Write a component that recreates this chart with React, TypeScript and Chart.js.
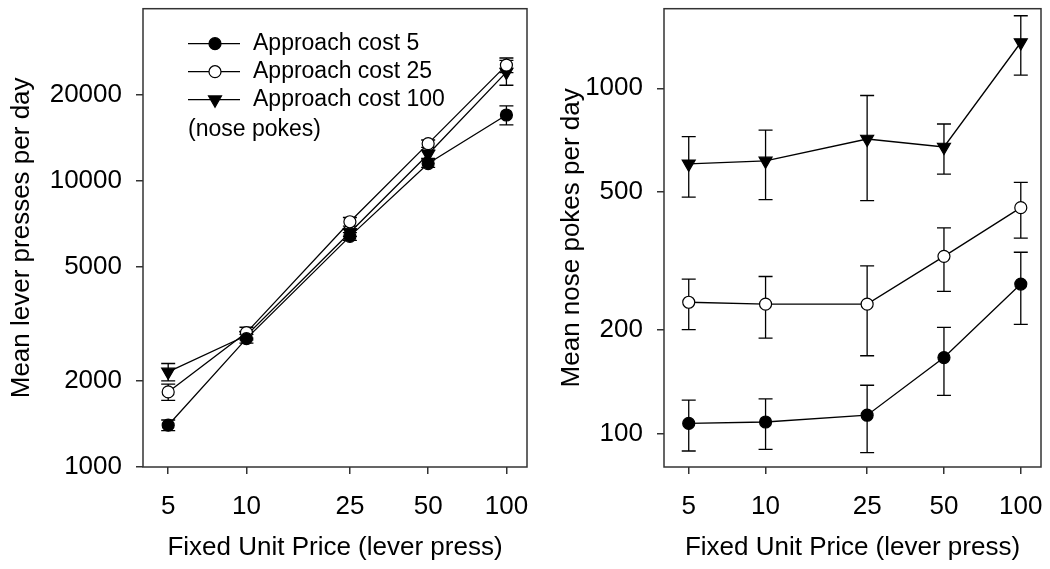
import React, { useEffect, useRef } from 'react';
import { Chart, registerables } from 'chart.js';

Chart.register(...registerables);

// ---------- data ----------
const prices = [5, 10, 25, 50, 100];
const xTicks = [5, 10, 25, 50, 100];
const leverYTicks = [1000, 2000, 5000, 10000, 20000];
const pokeYTicks = [100, 200, 500, 1000];

const seriesLabels = ['Approach cost 5', 'Approach cost 25', 'Approach cost 100'];
const legendNote = '(nose pokes)';
const xTitle = 'Fixed Unit Price (lever press)';
const leverTitle = 'Mean lever presses per day';
const pokeTitle = 'Mean nose pokes per day';

// left panel: lever presses
const leverCost5 = [1400, 2810, 6400, 11500, 17000];
const leverCost5Err = [60, 100, 200, 350, 1300];
const leverCost25 = [1830, 2950, 7200, 13500, 25400];
const leverCost25Err = [120, 130, 250, 400, 1500];
const leverCost100 = [2150, 2880, 6600, 12400, 24000];
const leverCost100Err = [150, 100, 200, 400, 2400];

// right panel: nose pokes
const pokeCost5 = [107, 108, 113, 166, 271];
const pokeCost5Err = [18, 18, 25, 37, 64];
const pokeCost25 = [240, 237, 237, 326, 451];
const pokeCost25Err = [40, 48, 69, 68, 83];
const pokeCost100 = [604, 616, 713, 676, 1357];
const pokeCost100Err = [120, 140, 240, 112, 265];

// ---------- styling ----------
const FONT = "'Liberation Sans', Arial, Helvetica, sans-serif";
const AXIS_COLOR = '#333';

const markerStyles = [
  { pointStyle: 'circle', radius: 6, fill: '#000', rotation: 0 },
  { pointStyle: 'circle', radius: 6, fill: '#fff', rotation: 0 },
  { pointStyle: 'triangle', radius: 7.5, fill: '#000', rotation: 180 },
];

function makeDatasets(values: number[][], errors: number[][]) {
  return values.map((vals, si) => {
    const m = markerStyles[si];
    return {
      label: seriesLabels[si],
      data: prices.map((p, i) => ({ x: p, y: vals[i] })),
      errors: errors[si],
      borderColor: '#000',
      borderWidth: 1.3,
      backgroundColor: m.fill,
      pointStyle: m.pointStyle,
      pointRadius: m.radius,
      pointRotation: m.rotation,
      pointBackgroundColor: m.fill,
      pointBorderColor: '#000',
      pointBorderWidth: 1.2,
      tension: 0,
      fill: false,
      clip: false,
    };
  });
}

const errorBarPlugin = {
  id: 'errorBars',
  beforeDatasetsDraw(chart: any) {
    const { ctx } = chart;
    const yScale = chart.scales.y;
    const cap = 7;
    ctx.save();
    ctx.strokeStyle = '#000';
    ctx.lineWidth = 1.3;
    chart.data.datasets.forEach((ds: any, di: number) => {
      const meta = chart.getDatasetMeta(di);
      meta.data.forEach((pt: any, i: number) => {
        const v = ds.data[i].y;
        const e = ds.errors[i];
        const yHi = yScale.getPixelForValue(v + e);
        const yLo = yScale.getPixelForValue(v - e);
        const x = pt.x;
        ctx.beginPath();
        ctx.moveTo(x, yHi);
        ctx.lineTo(x, yLo);
        ctx.moveTo(x - cap, yHi);
        ctx.lineTo(x + cap, yHi);
        ctx.moveTo(x - cap, yLo);
        ctx.lineTo(x + cap, yLo);
        ctx.stroke();
      });
    });
    ctx.restore();
  },
};

const boxPlugin = {
  id: 'box',
  afterDatasetsDraw(chart: any) {
    const { ctx, chartArea } = chart;
    ctx.save();
    ctx.strokeStyle = AXIS_COLOR;
    ctx.lineWidth = 1.5;
    ctx.strokeRect(chartArea.left, chartArea.top, chartArea.right - chartArea.left, chartArea.bottom - chartArea.top);
    ctx.restore();
  },
};

function drawMarker(ctx: CanvasRenderingContext2D, x: number, y: number, si: number) {
  const m = markerStyles[si];
  ctx.beginPath();
  if (m.pointStyle === 'circle') {
    ctx.arc(x, y, m.radius, 0, Math.PI * 2);
  } else {
    const r = m.radius;
    let rad = (m.rotation * Math.PI) / 180;
    ctx.moveTo(x + Math.sin(rad) * r, y - Math.cos(rad) * r);
    rad += (2 * Math.PI) / 3;
    ctx.lineTo(x + Math.sin(rad) * r, y - Math.cos(rad) * r);
    rad += (2 * Math.PI) / 3;
    ctx.lineTo(x + Math.sin(rad) * r, y - Math.cos(rad) * r);
    ctx.closePath();
  }
  ctx.fillStyle = m.fill;
  ctx.fill();
  ctx.lineWidth = 1.2;
  ctx.strokeStyle = '#000';
  ctx.stroke();
}

const insetLegendPlugin = {
  id: 'insetLegend',
  afterDraw(chart: any) {
    const { ctx, chartArea } = chart;
    const x0 = chartArea.left + 45;
    const y0 = chartArea.top + 35;
    const rowH = 28;
    ctx.save();
    ctx.font = `23px ${FONT}`;
    ctx.textBaseline = 'middle';
    ctx.textAlign = 'left';
    chart.data.datasets.forEach((ds: any, i: number) => {
      const y = y0 + i * rowH;
      ctx.beginPath();
      ctx.strokeStyle = '#000';
      ctx.lineWidth = 1.3;
      ctx.moveTo(x0, y);
      ctx.lineTo(x0 + 52, y);
      ctx.stroke();
      drawMarker(ctx, x0 + 27, y, i);
      ctx.fillStyle = '#000';
      ctx.fillText(ds.label, x0 + 65, y);
    });
    ctx.fillStyle = '#000';
    ctx.fillText(legendNote, x0, y0 + 3 * rowH + 2);
    ctx.restore();
  },
};

function makeConfig(opts: {
  values: number[][];
  errors: number[][];
  yMin: number;
  yMax: number;
  yTicks: number[];
  yTitle: string;
  yAxisWidth: number;
  yTitlePad: number;
  padRight: number;
  legend: boolean;
}): any {
  const tickFont = { family: FONT, size: 26 };
  return {
    type: 'line',
    data: { datasets: makeDatasets(opts.values, opts.errors) },
    options: {
      animation: false,
      responsive: true,
      maintainAspectRatio: false,
      layout: { padding: { top: 7, right: opts.padRight, left: 0, bottom: 0 } },
      plugins: { legend: { display: false }, tooltip: { enabled: false } },
      scales: {
        x: {
          type: 'logarithmic',
          min: 4,
          max: 120,
          afterBuildTicks: (scale: any) => {
            scale.ticks = xTicks.map((v) => ({ value: v }));
          },
          afterFit: (scale: any) => {
            scale.height = 102;
            scale.paddingLeft = 0;
            scale.paddingRight = 0;
          },
          ticks: {
            callback: (v: any) => String(v),
            font: tickFont,
            color: '#000',
            padding: 17,
            maxRotation: 0,
            autoSkip: false,
          },
          grid: { display: true, drawOnChartArea: false, drawTicks: true, tickLength: 7, color: AXIS_COLOR, lineWidth: 1.5 },
          border: { display: false },
          title: {
            display: true,
            text: xTitle,
            font: { family: FONT, size: 26 },
            color: '#000',
            padding: { top: 0, bottom: 6 },
          },
        },
        y: {
          type: 'logarithmic',
          min: opts.yMin,
          max: opts.yMax,
          afterBuildTicks: (scale: any) => {
            scale.ticks = opts.yTicks.map((v) => ({ value: v }));
          },
          afterFit: (scale: any) => {
            scale.width = opts.yAxisWidth;
            scale.paddingTop = 0;
            scale.paddingBottom = 0;
          },
          ticks: {
            callback: (v: any) => String(v),
            font: tickFont,
            color: '#000',
            padding: 14,
            autoSkip: false,
          },
          grid: { display: true, drawOnChartArea: false, drawTicks: true, tickLength: 7, color: AXIS_COLOR, lineWidth: 1.5 },
          border: { display: false },
          title: {
            display: true,
            text: opts.yTitle,
            font: { family: FONT, size: 26 },
            color: '#000',
            padding: { top: opts.yTitlePad, bottom: 0 },
          },
        },
      },
    },
    plugins: opts.legend ? [errorBarPlugin, boxPlugin, insetLegendPlugin] : [errorBarPlugin, boxPlugin],
  };
}

function Panel(props: { config: any; left: number; width: number }) {
  const ref = useRef<HTMLCanvasElement | null>(null);
  useEffect(() => {
    if (!ref.current) return;
    const chart = new Chart(ref.current, props.config);
    return () => chart.destroy();
  }, []);
  return (
    <div style={{ position: 'absolute', left: props.left, top: 0, width: props.width, height: 569 }}>
      <canvas ref={ref} />
    </div>
  );
}

export default function App() {
  const leftConfig = makeConfig({
    values: [leverCost5, leverCost25, leverCost100],
    errors: [leverCost5Err, leverCost25Err, leverCost100Err],
    yMin: 1000,
    yMax: 40000,
    yTicks: leverYTicks,
    yTitle: leverTitle,
    yAxisWidth: 143,
    yTitlePad: 6,
    padRight: 13,
    legend: true,
  });
  const rightConfig = makeConfig({
    values: [pokeCost5, pokeCost25, pokeCost100],
    errors: [pokeCost5Err, pokeCost25Err, pokeCost100Err],
    yMin: 80,
    yMax: 1700,
    yTicks: pokeYTicks,
    yTitle: pokeTitle,
    yAxisWidth: 124,
    yTitlePad: 16,
    padRight: 9,
    legend: false,
  });
  return (
    <div style={{ position: 'fixed', left: 0, top: 0, width: 1050, height: 569, background: '#fff' }}>
      <Panel config={leftConfig} left={0} width={540} />
      <Panel config={rightConfig} left={540} width={510} />
    </div>
  );
}
